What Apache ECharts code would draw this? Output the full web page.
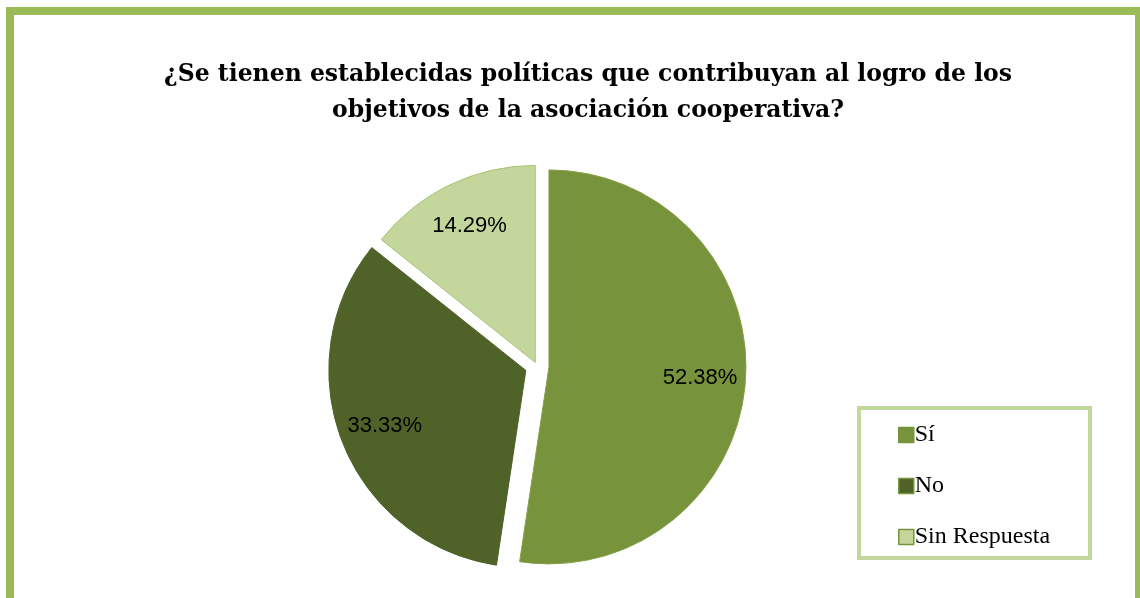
<!DOCTYPE html>
<html><head><meta charset="utf-8">
<script src="https://cdn.jsdelivr.net/npm/echarts@6/dist/echarts.min.js"></script>
<style>html,body{margin:0;padding:0;background:#fff}#c{width:1140px;height:598px}</style>
</head><body><div id="c"></div>
<script>
const titleText = '¿Se tienen establecidas políticas que contribuyan al logro de los\nobjetivos de la asociación cooperativa?';
const categories = ['Sí', 'No', 'Sin Respuesta'];
const values = [52.38, 33.33, 14.29];
const colors = ['#77933C', '#4F6228', '#C3D69B'];
const borders = ['#86A046', '#4F6228', '#A9C274'];
const offsets = [12, 12, 4];

const chart = echarts.init(document.getElementById('c'));
const center = [537, 366];
const R = 197;
const offsetGroups = [...new Set(offsets)];

function mkSeries(off, isLabel) {
  return {
    type: 'pie', center: center, radius: isLabel ? [100, R] : [0, R],
    startAngle: 90, clockwise: true, silent: true,
    selectedMode: 'multiple', selectedOffset: off,
    labelLine: { show: false },
    emphasis: { disabled: true },
    label: isLabel ? { show: true, position: 'inside', formatter: p => p.value.toFixed(2) + '%',
      fontFamily: 'Liberation Sans', fontSize: 22, color: '#000' } : { show: false },
    data: categories.map((n, i) => {
      const mine = offsets[i] === off;
      return {
        name: n, value: values[i], selected: true,
        itemStyle: (!isLabel && mine) ? { color: colors[i], borderColor: borders[i], borderWidth: 1 } : { color: 'rgba(0,0,0,0)', borderWidth: 0 },
        label: { show: isLabel && mine }
      };
    })
  };
}
const series = [];
offsetGroups.forEach(o => series.push(mkSeries(o, false)));
offsetGroups.forEach(o => series.push(mkSeries(o, true)));

chart.setOption({
  animation: false,
  color: colors,
  title: {
    text: titleText, left: 583, textAlign: 'center', top: 52,
    textStyle: { fontFamily: 'DejaVu Serif', fontWeight: 'bold', fontSize: 23.5, lineHeight: 36, color: '#000' }
  },
  legend: {
    orient: 'vertical', left: 893, top: 418, itemGap: 27, itemWidth: 15, itemHeight: 15,
    icon: 'rect',
    data: categories.map((n, i) => ({ name: n, itemStyle: { color: colors[i], borderColor: '#77933C', borderWidth: 1.5 } })),
    textStyle: { fontFamily: 'Liberation Serif', fontSize: 24, color: '#000', padding: [0, 0, 0, -4] },
    selectedMode: false
  },
  graphic: [
    { type: 'rect', shape: { x: 10, y: 11, width: 1129, height: 620 }, style: { fill: 'none', stroke: '#9BBB59', lineWidth: 8 }, silent: true },
    { type: 'rect', shape: { x: 859, y: 408, width: 231, height: 150 }, style: { fill: 'none', stroke: '#C3D69B', lineWidth: 4 }, silent: true, z: -1 }
  ],
  series: series
});
</script></body></html>
